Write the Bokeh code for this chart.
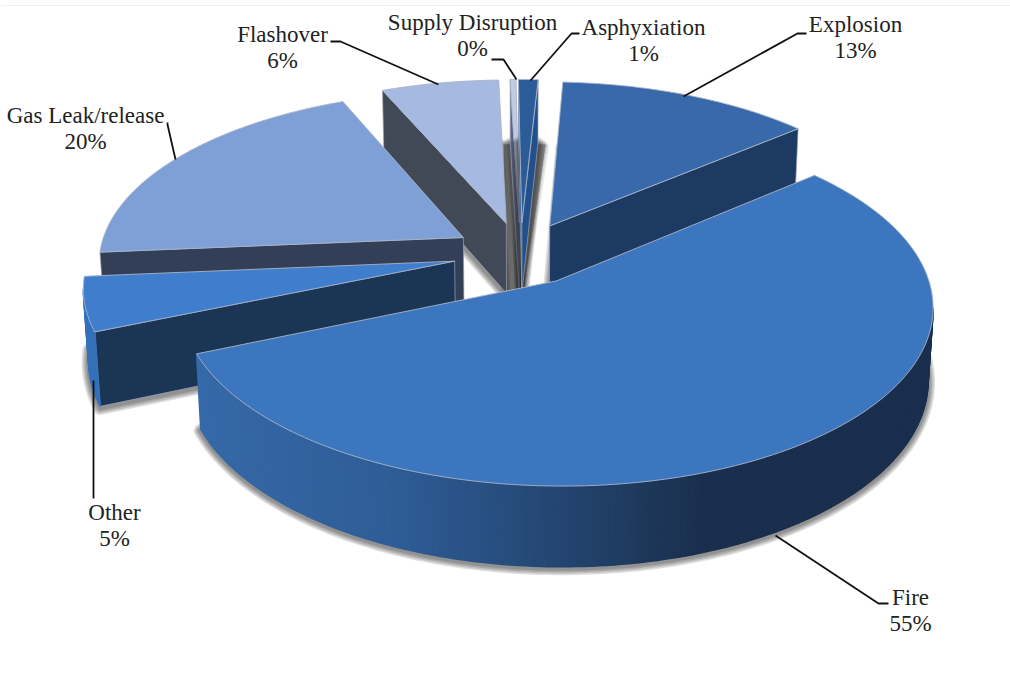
import math

from bokeh.core.properties import value
from bokeh.embed import file_html
from bokeh.models import ColumnDataSource
from bokeh.plotting import figure
from bokeh.resources import INLINE

# Shares of incident causes, in percent, clockwise from twelve o'clock.
categories = ["Asphyxiation", "Explosion", "Fire", "Other", "Gas Leak/release", "Flashover", "Supply Disruption"]
shares = [1, 13, 55, 5, 20, 6, 0.3]

top_colors = ["#2C5C98", "#3869AA", "#3C76BE", "#3F7DCD", "#7F9FD7", "#A6B9E1", "#BECCE6"]
wall_colors = ["#22508C", "#1D3A63", "#1A2F4D", "#1B3554", "#333F57", "#414856", "#5C6580"]
rim_colors = ["#22508C", "#1D3A63", None, "#3570BA", "#333F57", "#414856", "#5C6580"]

# Far slices are painted first so that nearer ones overlap them.
paint_order = ["Supply Disruption", "Asphyxiation", "Flashover", "Explosion", "Gas Leak/release", "Other", "Fire"]

# Projection of the pie: unit disc in the plane, z = 0 on top and 1 at the base.
ORIGIN_X, ORIGIN_Y = 520.0, 253.0
SCALE_X, SCALE_Y = 364.5, 170.0
TILT, THICKNESS, BASE_SHRINK = 0.133, 72.0, 0.012
EXPLODE = 0.185
FIRST_ANGLE = -0.6
FONT = "Liberation Serif"
FONT_PX = 23

# Label centres and their leader polylines on the canvas.
label_layout = {
    "Asphyxiation": (643, 27, [(530, 80), (571, 33), (579, 33)]),
    "Explosion": (855, 24, [(683, 96), (797, 33), (806, 33)]),
    "Fire": (910, 597, [(775, 535), (878, 603), (888, 603)]),
    "Other": (114, 512, [(93, 380), (93, 498)]),
    "Gas Leak/release": (85, 115, [(175, 159), (167, 124), (167, 122)]),
    "Flashover": (282, 34, [(438, 84), (340, 41), (330, 41)]),
    "Supply Disruption": (472, 22, [(516, 79), (503, 59), (491, 59)]),
}


def project(wx, wy, z=0.0):
    w = 1 + TILT * wy + BASE_SHRINK * z
    return ORIGIN_X + SCALE_X * wx / w, ORIGIN_Y - (SCALE_Y * wy - THICKNESS * z) / w


def mix(c0, c1, t):
    a = [int(c0[i:i + 2], 16) for i in (1, 3, 5)]
    b = [int(c1[i:i + 2], 16) for i in (1, 3, 5)]
    return "#%02x%02x%02x" % tuple(round(p + (q - p) * t) for p, q in zip(a, b))


def fire_rim_color(x):
    stops = [(200, "#3669A8"), (400, "#2E5C95"), (560, "#234570"), (700, "#1A2F4D"), (1000, "#1A2F4D")]
    for (x0, c0), (x1, c1) in zip(stops, stops[1:]):
        if x <= x1:
            return mix(c0, c1, max(0.0, (x - x0) / (x1 - x0)))
    return stops[-1][1]


p = figure(width=1010, height=676, x_range=(0, 1010), y_range=(676, 0),
           output_backend="svg", toolbar_location=None, min_border=0)
p.axis.visible = False
p.grid.visible = False
p.outline_line_color = None
p.background_fill_color = "white"
p.border_fill_color = "white"

p.line([0, 1010], [5, 5], line_color="#F1F1F1", line_width=1)

# Grey backdrop visible in the gap between the two thinnest slices.
gap_pts = [project(-0.052, 1.17, 1), project(0.08, 1.17, 1), project(0.008, 0.2, 1), project(-0.047, 0.2, 1)]
for lw, alpha in ((8, 0.15), (5, 0.25), (2, 0.4)):
    p.patch([q[0] for q in gap_pts], [q[1] for q in gap_pts], fill_color="#8E8E8E",
            line_color="#8E8E8E", line_alpha=alpha, line_width=lw)

total = sum(shares)
slices = {}
start = FIRST_ANGLE
for name, share, top, wall, rim in zip(categories, shares, top_colors, wall_colors, rim_colors):
    sweep = 360.0 * share / total
    slices[name] = dict(a0=start, a1=start + sweep, top=top, wall=wall, rim=rim)
    start += sweep


def polygon(points):
    return [q[0] for q in points], [q[1] for q in points]


for name in paint_order:
    s = slices[name]
    a0, a1 = s["a0"], s["a1"]
    mid = math.radians((a0 + a1) / 2)
    cx, cy = EXPLODE * math.sin(mid), EXPLODE * math.cos(mid)
    steps = max(3, int((a1 - a0) / 1.0))
    angles = [math.radians(a0 + (a1 - a0) * i / steps) for i in range(steps + 1)]
    rim_world = [(cx + math.sin(t), cy + math.cos(t)) for t in angles]
    top_arc = [project(wx, wy) for wx, wy in rim_world]
    base_arc = [project(wx, wy, 1) for wx, wy in rim_world]
    apex_top = project(cx, cy)
    apex_base = project(cx, cy, 1)

    # Soft contact shadow: stacked translucent strokes around the base outline.
    bx, by = polygon([apex_base] + base_arc)
    by = [v + 1.5 for v in by]
    for lw in (14, 11, 8, 5):
        p.patch(bx, by, fill_alpha=0, line_color="#000000",
                line_alpha=0.13, line_width=lw, line_join="round")

    # Cut faces, only those turned towards the viewer.
    inner = project(cx + 0.5 * math.sin(mid), cy + 0.5 * math.cos(mid))
    for tip_top, tip_base in ((top_arc[0], base_arc[0]), (top_arc[-1], base_arc[-1])):
        ex, ey = tip_top[0] - apex_top[0], tip_top[1] - apex_top[1]
        side_inner = ex * (inner[1] - apex_top[1]) - ey * (inner[0] - apex_top[0])
        side_down = ex
        if side_inner * side_down < 0:
            fx, fy = polygon([apex_top, tip_top, tip_base, apex_base])
            p.patch(fx, fy, fill_color=s["wall"], line_color="#9AA3B2", line_width=0.7)

    # Outer rim as thin quads, kept only where the arc runs leftwards (the front side).
    quad_xs, quad_ys, quad_cols = [], [], []
    for i in range(steps):
        if top_arc[i + 1][0] >= top_arc[i][0]:
            continue
        qx, qy = polygon([top_arc[i], top_arc[i + 1], base_arc[i + 1], base_arc[i]])
        quad_xs.append(qx)
        quad_ys.append(qy)
        quad_cols.append(s["rim"] or fire_rim_color(sum(qx) / 4))
    if quad_xs:
        p.patches("xs", "ys", source=ColumnDataSource(dict(xs=quad_xs, ys=quad_ys, c=quad_cols)),
                  fill_color="c", line_color="c", line_width=1.6)

    # Top face.
    tx, ty = polygon([apex_top] + top_arc)
    p.patch(tx, ty, fill_color=s["top"], line_color="#A9B4C8", line_width=0.9)

# Leader lines and two-line labels.
for name, share in zip(categories, shares):
    lx, ly, leader = label_layout[name]
    p.line([q[0] for q in leader], [q[1] for q in leader], line_color="#111111", line_width=1.8)
    p.text([lx], [ly], text=[name], text_align="center", text_baseline="middle",
           text_font=value(FONT), text_font_size=f"{FONT_PX}px", text_color="#222222")
    p.text([lx], [ly + 26], text=[f"{round(share)}%"], text_align="center", text_baseline="middle",
           text_font=value(FONT), text_font_size=f"{FONT_PX}px", text_color="#222222")

open("out.html", "w").write(file_html(p, INLINE))
